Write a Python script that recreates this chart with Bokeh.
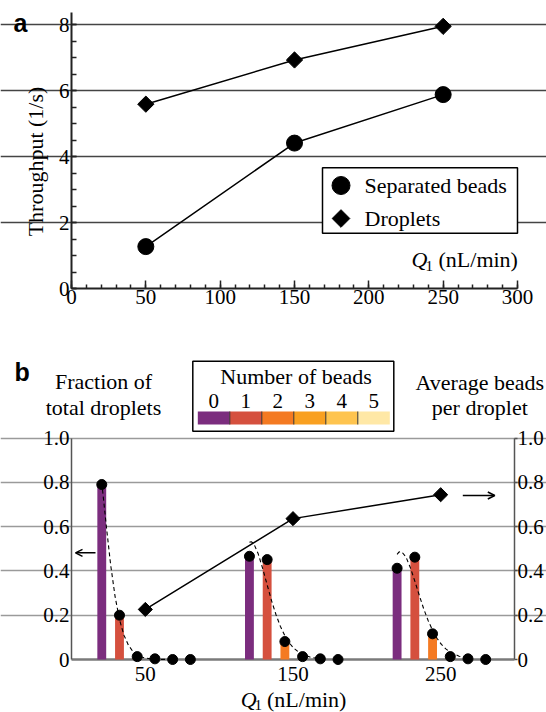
import math
from bokeh.plotting import figure
from bokeh.models import FixedTicker, LinearAxis, Range1d, Label, Arrow, OpenHead
from bokeh.layouts import column
from bokeh.embed import file_html
from bokeh.resources import INLINE

SERIF = "Liberation Serif"
SANS = "Liberation Sans"

# ---------------- data: panel a ----------------
q1_flow = [50, 150, 250]                 # Q1 (nL/min)
separated_beads = [1.27, 4.41, 5.88]     # throughput (1/s)
droplets = [5.59, 6.93, 7.95]            # throughput (1/s)
a_xticks = [0, 50, 100, 150, 200, 250, 300]
a_yticks = [0, 2, 4, 6, 8]

# ---------------- data: panel b ----------------
bead_counts = [0, 1, 2, 3, 4, 5]
fraction_50 = [0.79, 0.20, 0.013, 0.003, 0.0, 0.0]
fraction_150 = [0.466, 0.451, 0.081, 0.013, 0.003, 0.0]
fraction_250 = [0.412, 0.462, 0.116, 0.013, 0.003, 0.0]
avg_beads = [0.226, 0.636, 0.744]        # average beads per droplet
# dashed model curves at bead number k
curve_k = [0, 0.1, 0.25, 0.5, 0.75, 1, 1.25, 1.5, 1.75, 2, 2.25, 2.5, 2.75, 3, 3.5, 4]
curve_50 = [0.798, 0.723, 0.607, 0.428, 0.285, 0.180, 0.110, 0.065, 0.037, 0.020,
            0.011, 0.006, 0.003, 0.0015, 0.0004, 0.0001]
curve_150 = [0.529, 0.532, 0.522, 0.476, 0.410, 0.337, 0.265, 0.202, 0.149, 0.107,
             0.075, 0.051, 0.035, 0.023, 0.009, 0.004]
curve_250 = [0.475, 0.485, 0.487, 0.463, 0.414, 0.354, 0.290, 0.229, 0.176, 0.132,
             0.096, 0.068, 0.048, 0.033, 0.015, 0.006]
bead_colors = ["#7B2D7E", "#D5503E", "#F47A22", "#F9A020", "#FEC44F", "#FFE8A6"]
b_xticks = [50, 150, 250]
b_yticks = [0, 0.2, 0.4, 0.6, 0.8, 1.0]

# layout constants
GROUP_START = -29.5   # offset of the k=0 bar from the group's Q1 value
BAR_STEP = 12.0
BAR_W = 6.0
W = 546


class Mapper:
    """page-pixel <-> data helper for a figure whose frame fills its canvas."""
    def __init__(self, top, height, x0_px, x1_px, xmax, y0_px, y1_px, ymax):
        self.top, self.height = top, height
        self.kx = (x1_px - x0_px) / xmax
        self.ky = (y0_px - y1_px) / ymax
        self.x0_px, self.y0_px = x0_px, y0_px

    def x(self, px):
        return (px - self.x0_px) / self.kx

    def y(self, py):
        return (self.y0_px - py) / self.ky

    def xrange(self):
        return Range1d(self.x(0), self.x(W))

    def yrange(self):
        return Range1d(self.y(self.top + self.height), self.y(self.top))


def label(p, m, px, py, text, size="22px", align="left", font=SERIF,
          style="normal", angle=0.0):
    # py is the vertical centre of the text line (page px)
    p.add_layout(Label(x=m.x(px), y=m.y(py), text=text, text_font=font,
                       text_font_size=size, text_align=align, text_baseline="middle",
                       text_font_style=style, angle=angle, text_color="black"))


def make_fig(m):
    p = figure(frame_width=W, frame_height=m.height, min_border=0,
               x_range=m.xrange(), y_range=m.yrange(),
               output_backend="svg", toolbar_location=None,
               background_fill_color="white", border_fill_color="white",
               outline_line_color=None)
    p.xgrid.visible = False
    return p


# ================= panel a =================
ma = Mapper(top=0, height=330, x0_px=71, x1_px=517, xmax=300, y0_px=288, y1_px=12, ymax=8.37)
pa = make_fig(ma)
pa.ygrid.ticker = FixedTicker(ticks=[2, 4, 6, 8])
pa.ygrid.bounds = (0, 300)
pa.ygrid.grid_line_color = "#444444"
pa.ygrid.grid_line_width = 1.4

pa.xaxis.ticker = FixedTicker(ticks=a_xticks, minor_ticks=list(range(0, 301, 10)))
pa.yaxis.ticker = FixedTicker(ticks=a_yticks, minor_ticks=[v / 2 for v in range(0, 17)])
pa.xaxis.fixed_location = 0
pa.yaxis.fixed_location = 0
pa.xaxis.bounds = (0, 300)
pa.yaxis.bounds = (0, 8.37)
for ax in (pa.xaxis, pa.yaxis):
    ax.axis_line_color = "#222222"
    ax.axis_line_width = 2
    ax.major_tick_line_color = "#222222"
    ax.minor_tick_line_color = "#222222"
    ax.major_tick_line_width = 1.5
    ax.minor_tick_line_width = 1.5
    ax.major_tick_out = 0
    ax.minor_tick_out = 0
    ax.major_label_text_font = SERIF
    ax.major_label_text_font_size = "21px"
    ax.major_label_text_color = "black"
pa.xaxis.major_tick_in = 8
pa.xaxis.minor_tick_in = 4
pa.xaxis.major_label_standoff = 1
pa.yaxis.major_tick_in = 5
pa.yaxis.minor_tick_in = 5
pa.yaxis.major_label_standoff = 2

pa.line(q1_flow, separated_beads, line_color="black", line_width=1.5)
pa.line(q1_flow, droplets, line_color="black", line_width=1.5)
pa.scatter(q1_flow, separated_beads, marker="circle", size=16, color="black")
pa.scatter(q1_flow, droplets, marker="square", angle=math.pi / 4, size=11.5, color="black")

# legend (drawn by hand)
pa.quad(left=ma.x(322), right=ma.x(517), bottom=ma.y(232.7), top=ma.y(167.3),
        fill_color="white", line_color="black", line_width=1.5)
pa.scatter([ma.x(340.5)], [ma.y(185)], marker="circle", size=18, color="black")
pa.scatter([ma.x(340.5)], [ma.y(218)], marker="square", angle=math.pi / 4, size=12.5, color="black")
label(pa, ma, 364, 185, "Separated beads")
label(pa, ma, 364, 218, "Droplets")

label(pa, ma, 35, 161, "Throughput (1/s)", size="22px", align="center", angle=math.pi / 2)
label(pa, ma, 411, 259.1, "Q", style="italic")
label(pa, ma, 425, 265.6, "1", size="15px")
label(pa, ma, 438, 259.1, "(nL/min)")
label(pa, ma, 13, 22.0, "a", size="25px", font=SANS, style="bold")

# ================= panel b =================
mb = Mapper(top=330, height=382, x0_px=71, x1_px=514, xmax=300, y0_px=659, y1_px=437.5, ymax=1.0)
pb = make_fig(mb)
pb.ygrid.ticker = FixedTicker(ticks=[0.2, 0.4, 0.6, 0.8, 1.0])
pb.ygrid.bounds = (0, 300)
pb.ygrid.grid_line_color = "#9a9a9a"
pb.ygrid.grid_line_width = 1.5

pb.xaxis.ticker = FixedTicker(ticks=b_xticks)
pb.xaxis.fixed_location = 0
pb.xaxis.axis_line_color = None
pb.xaxis.major_tick_line_color = None
pb.xaxis.minor_tick_line_color = None
pb.xaxis.major_label_text_font = SERIF
pb.xaxis.major_label_text_font_size = "21px"
pb.xaxis.major_label_text_color = "black"
pb.xaxis.major_label_standoff = 1

right_axis = LinearAxis(fixed_location=300)
pb.add_layout(right_axis, "right")
left_axis = pb.yaxis[0]
left_axis.fixed_location = 0
for ax, tick_out, standoff in ((left_axis, 0, 2), (right_axis, 3, 0)):
    ax.ticker = FixedTicker(ticks=b_yticks)
    ax.bounds = (0, 1)
    ax.major_label_overrides = {0: "0", 1: "1.0"}
    ax.axis_line_color = "#555555"
    ax.axis_line_width = 1.5
    ax.major_tick_line_color = "#555555"
    ax.major_tick_line_width = 1.5
    ax.major_tick_in = 0
    ax.major_tick_out = tick_out
    ax.minor_tick_line_color = None
    ax.major_label_text_font = SERIF
    ax.major_label_text_font_size = "21px"
    ax.major_label_text_color = "black"
    ax.major_label_standoff = standoff

# baseline (y = 0) line
pb.segment(x0=[0], y0=[0], x1=[300], y1=[0], line_color="#7a7a7a", line_width=2.5,
           level="underlay")

groups = [(q1_flow[0], fraction_50, curve_50),
          (q1_flow[1], fraction_150, curve_150),
          (q1_flow[2], fraction_250, curve_250)]
for q, frac, curve in groups:
    xs = [q + GROUP_START + BAR_STEP * k for k in bead_counts]
    pb.vbar(x=xs, top=frac, bottom=0, width=BAR_W, fill_color=bead_colors, line_color=None)
for q, frac, curve in groups:
    cx = [q + GROUP_START + BAR_STEP * k for k in curve_k]
    pb.line(cx, curve, line_color="black", line_width=1.1, line_dash="4 3")
for q, frac, curve in groups:
    xs = [q + GROUP_START + BAR_STEP * k for k in bead_counts]
    pb.scatter(xs, frac, marker="circle", size=10, color="black")

pb.line(q1_flow, avg_beads, line_color="black", line_width=1.5)
pb.scatter(q1_flow, avg_beads, marker="square", angle=math.pi / 4, size=10, color="black")

pb.add_layout(Arrow(end=OpenHead(size=7, line_width=1.5, line_color="black"),
                    x_start=mb.x(95), y_start=mb.y(552.3), x_end=mb.x(75), y_end=mb.y(552.3),
                    line_width=1.5, line_color="black"))
pb.add_layout(Arrow(end=OpenHead(size=7, line_width=1.5, line_color="black"),
                    x_start=mb.x(462.3), y_start=mb.y(495), x_end=mb.x(494.3), y_end=mb.y(495),
                    line_width=1.5, line_color="black"))

# colour key for number of beads
pb.quad(left=mb.x(192.3), right=mb.x(393.3), bottom=mb.y(430.7), top=mb.y(360.7),
        fill_color="white", line_color="black", line_width=1.5)
sw_x0, sw_w = 197.3, 32.0    # swatch start and width in px
sw_left = [mb.x(sw_x0 + sw_w * k) for k in bead_counts]
sw_right = [mb.x(sw_x0 + sw_w * (k + 1)) for k in bead_counts]
pb.quad(left=sw_left, right=sw_right, bottom=mb.y(424), top=mb.y(411),
        fill_color=bead_colors, line_color=None)
pb.segment(x0=sw_left[1:], y0=mb.y(424), x1=sw_left[1:], y1=mb.y(411),
           line_color="#333333", line_width=1)
for k in bead_counts:
    label(pb, mb, sw_x0 + sw_w * (k + 0.5), 400, str(k), size="21px", align="center")
label(pb, mb, 295.6, 375.7, "Number of beads", align="center")

label(pb, mb, 103, 380.7, "Fraction of", align="center")
label(pb, mb, 103, 406.7, "total droplets", align="center")
label(pb, mb, 479.3, 381.7, "Average beads", align="center")
label(pb, mb, 479.3, 407, "per droplet", align="center")
label(pb, mb, 14, 371.3, "b", size="25px", font=SANS, style="bold")

label(pb, mb, 240.3, 698.6, "Q", style="italic")
label(pb, mb, 254, 704.9, "1", size="15px")
label(pb, mb, 266.5, 698.6, "(nL/min)")

layout = column(pa, pb)
open("out.html", "w").write(file_html(layout, INLINE))
